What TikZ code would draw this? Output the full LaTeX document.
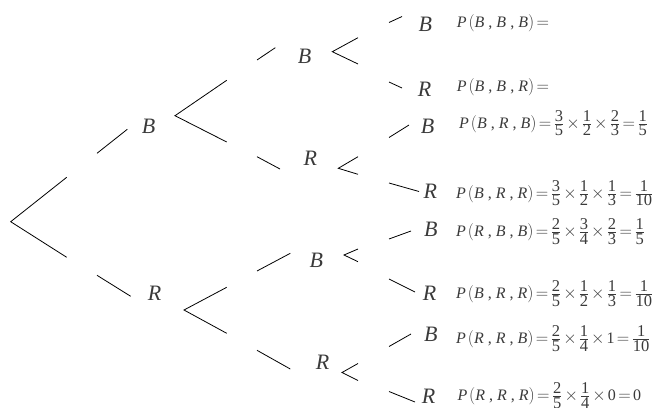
\documentclass[tikz,border=0pt]{standalone}
\usepackage{amsmath}
\usepackage{fontspec}
\setmainfont{Liberation Serif}
\definecolor{txt}{HTML}{3A3A3A}
\newcommand\mydig[1]{\mbox{\fontsize{16.5}{17}\selectfont #1}}
\newcommand\myfr[2]{\frac{\mydig{#1}}{\mydig{#2}}}
\newcommand\myP[3]{\textit{P}\mkern2mu(\textit{#1}\text{ , }\textit{#2}\text{ , }\textit{#3})}
\newcommand\eqq{\mkern2.5mu{=}\mkern2.5mu}
\newcommand\tms{\mkern2mu{\times}\mkern2mu}
\begin{document}
\begin{tikzpicture}[x=1pt,y=-1pt,
  br/.style={draw=black,line width=0.8pt},
  lbl/.style={inner sep=0pt,anchor=base west,text=txt,font=\fontsize{22}{24}\selectfont\itshape},
  frm/.style={inner sep=0pt,anchor=base west,text=txt,font=\fontsize{16}{18}\selectfont}]
\useasboundingbox (0,0) rectangle (656,407);
% root fork
\coordinate (r0) at (10.7,221.7);
\coordinate (r1) at (66.7,177.3);
\coordinate (r2) at (66.7,257.3);
\draw[br] (r1) -- (r0) -- (r2);
% level 1 segments
\coordinate (sB1a) at (97,153.3); \coordinate (sB1b) at (127.3,129.3);
\coordinate (sR1a) at (97,275.3); \coordinate (sR1b) at (130.7,296.3);
\draw[br] (sB1a) -- (sB1b);
\draw[br] (sR1a) -- (sR1b);
\node[lbl] (lB) at (141.7,133.3) {B};
\node[lbl] (lR) at (147.7,300) {R};
% level 2 forks
\coordinate (fB0) at (175,115.7); \coordinate (fB1) at (226.7,80.3); \coordinate (fB2) at (226.7,142);
\draw[br] (fB1) -- (fB0) -- (fB2);
\coordinate (fR0) at (184,310); \coordinate (fR1) at (226.7,287.3); \coordinate (fR2) at (226.7,333.3);
\draw[br] (fR1) -- (fR0) -- (fR2);
% level 2 segments
\coordinate (sBBa) at (257,60); \coordinate (sBBb) at (275.3,47.7);
\coordinate (sBRa) at (257,156.7); \coordinate (sBRb) at (280,169);
\coordinate (sRBa) at (257,271); \coordinate (sRBb) at (290.3,253.3);
\coordinate (sRRa) at (257,350.3); \coordinate (sRRb) at (290.3,369);
\draw[br] (sBBa) -- (sBBb);
\draw[br] (sBRa) -- (sBRb);
\draw[br] (sRBa) -- (sRBb);
\draw[br] (sRRa) -- (sRRb);
\node[lbl] (lBB) at (297.7,63.3) {B};
\node[lbl] (lBR) at (303.3,165) {R};
\node[lbl] (lRB) at (309.3,267.3) {B};
\node[lbl] (lRR) at (315.7,369) {R};
% level 3 forks
\coordinate (fBB0) at (332.3,51.7); \coordinate (fBB1) at (358,37.7); \coordinate (fBB2) at (358,64);
\coordinate (fBR0) at (338.3,168.3); \coordinate (fBR1) at (358,156.7); \coordinate (fBR2) at (358,174.3);
\coordinate (fRB0) at (344,255); \coordinate (fRB1) at (358,249); \coordinate (fRB2) at (358,261.7);
\coordinate (fRR0) at (342,372.5); \coordinate (fRR1) at (358,363.5); \coordinate (fRR2) at (358,380.5);
\draw[br] (fBB1) -- (fBB0) -- (fBB2);
\draw[br] (fBR1) -- (fBR0) -- (fBR2);
\draw[br] (fRB1) -- (fRB0) -- (fRB2);
\draw[br] (fRR1) -- (fRR0) -- (fRR2);
% level 3 segments
\coordinate (sBBBa) at (389,22.5); \coordinate (sBBBb) at (402,16.5);
\coordinate (sBBRa) at (389,82); \coordinate (sBBRb) at (402,88);
\coordinate (sBRBa) at (389,137.5); \coordinate (sBRBb) at (409,125);
\coordinate (sBRRa) at (389,183); \coordinate (sBRRb) at (419,191.5);
\coordinate (sRBBa) at (389,239); \coordinate (sRBBb) at (411,231);
\coordinate (sRBRa) at (389,279); \coordinate (sRBRb) at (415,292);
\coordinate (sRRBa) at (389,346.5); \coordinate (sRRBb) at (411,334);
\coordinate (sRRRa) at (389,391.5); \coordinate (sRRRb) at (415,402);
\draw[br] (sBBBa) -- (sBBBb);
\draw[br] (sBBRa) -- (sBBRb);
\draw[br] (sBRBa) -- (sBRBb);
\draw[br] (sBRRa) -- (sBRRb);
\draw[br] (sRBBa) -- (sRBBb);
\draw[br] (sRBRa) -- (sRBRb);
\draw[br] (sRRBa) -- (sRRBb);
\draw[br] (sRRRa) -- (sRRRb);
% leaf labels
\node[lbl] (lBBB) at (418.3,31.7) {B};
\node[lbl] (lBBR) at (417.7,96.7) {R};
\node[lbl] (lBRB) at (420.7,133.3) {B};
\node[lbl] (lBRR) at (423.3,198.3) {R};
\node[lbl] (lRBB) at (424,236.7) {B};
\node[lbl] (lRBR) at (422.7,300.3) {R};
\node[lbl] (lRRB) at (424,341) {B};
\node[lbl] (lRRR) at (421.7,403.7) {R};
% formulas
\node[frm] (pBBB) at (456.7,27.3) {$\myP{B}{B}{B}\eqq$};
\node[frm] (pBBR) at (456.7,91.7) {$\myP{B}{B}{R}\eqq$};
\node[frm] (pBRB) at (459,128.3) {$\myP{B}{R}{B}\eqq\myfr{3}{5}\tms\myfr{1}{2}\tms\myfr{2}{3}\eqq\myfr{1}{5}$};
\node[frm] (pBRR) at (456,198.3) {$\myP{B}{R}{R}\eqq\myfr{3}{5}\tms\myfr{1}{2}\tms\myfr{1}{3}\eqq\myfr{1}{10}$};
\node[frm] (pRBB) at (456,236.7) {$\myP{R}{B}{B}\eqq\myfr{2}{5}\tms\myfr{3}{4}\tms\myfr{2}{3}\eqq\myfr{1}{5}$};
\node[frm] (pRBR) at (456,298.7) {$\myP{B}{R}{R}\eqq\myfr{2}{5}\tms\myfr{1}{2}\tms\myfr{1}{3}\eqq\myfr{1}{10}$};
\node[frm] (pRRB) at (456,343.7) {$\myP{R}{R}{B}\eqq\myfr{2}{5}\tms\myfr{1}{4}\tms\text{1}\eqq\myfr{1}{10}$};
\node[frm] (pRRR) at (457.3,400.5) {$\myP{R}{R}{R}\eqq\myfr{2}{5}\tms\myfr{1}{4}\tms\text{0}\eqq\text{0}$};
\end{tikzpicture}
\end{document}
